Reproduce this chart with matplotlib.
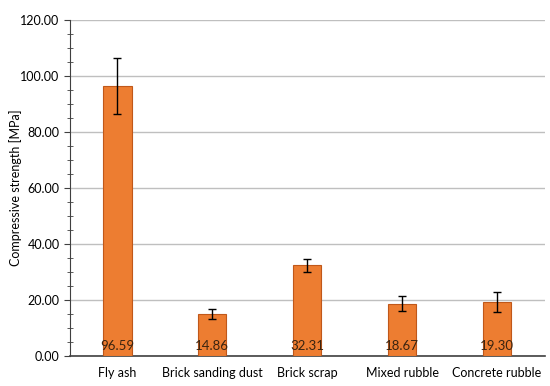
import numpy as np
import matplotlib.pyplot as plt
from matplotlib.ticker import MultipleLocator

plt.rcParams['font.family'] = ['Lato', 'DejaVu Sans']

categories = ['Fly ash', 'Brick sanding dust', 'Brick scrap', 'Mixed rubble', 'Concrete rubble']
strength = [96.59, 14.86, 32.31, 18.67, 19.30]
errors = [10.0, 1.8, 2.3, 2.7, 3.5]

fig = plt.figure(figsize=(5.5, 3.86), dpi=100)
ax = fig.add_axes([0.127, 0.078, 0.863, 0.87])

x = np.arange(len(categories))
ax.bar(x, strength, width=0.3, color='#ED7D31', edgecolor='#C0581A', linewidth=0.8, zorder=3)
ax.errorbar(x, strength, yerr=errors, fmt='none', ecolor='black', elinewidth=1.0, capsize=3, capthick=1.0, zorder=4)
for xi, v in zip(x, strength):
    ax.text(xi, 1.5, '%.2f' % v, ha='center', va='bottom', fontsize=9.5, color='#3a2410', zorder=5)

ax.set_xlim(-0.5, 4.5)
ax.set_ylim(0, 120)
ax.set_xticks(x)
ax.set_xticklabels(categories, fontsize=9)
ax.yaxis.set_major_locator(MultipleLocator(20))
ax.yaxis.set_minor_locator(MultipleLocator(5))
ax.set_yticks(np.arange(0, 121, 20))
ax.set_yticklabels(['%.2f' % t for t in np.arange(0, 121, 20)], fontsize=9)
ax.tick_params(axis='x', length=0, pad=8)
ax.tick_params(axis='y', which='major', length=4, direction='out', color='#404040')
ax.tick_params(axis='y', which='minor', length=4, direction='inout', color='#404040')
fig.text(16 / 550, 1 - 188 / 386, 'Compressive strength [MPa]', rotation=90,
         ha='center', va='center', fontsize=9)
ax.grid(axis='y', color='#BFBFBF', linewidth=1.0, zorder=0)
ax.set_axisbelow(True)
for s in ['top', 'right']:
    ax.spines[s].set_visible(False)
ax.spines['left'].set_color('#404040')
ax.spines['bottom'].set_color('#404040')
ax.spines['bottom'].set_linewidth(1.2)

plt.savefig('out.png', dpi=100)
